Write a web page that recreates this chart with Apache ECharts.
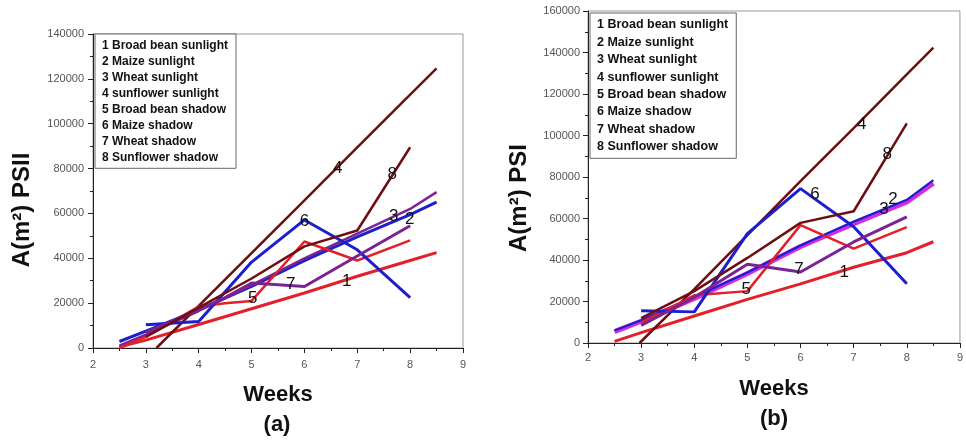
<!DOCTYPE html>
<html>
<head>
<meta charset="utf-8">
<script src="https://cdn.jsdelivr.net/npm/echarts@6/dist/echarts.min.js"></script>
<style>
  html, body { margin: 0; padding: 0; background: #fff; }
  #chart { width: 966px; height: 440px; }
</style>
</head>
<body>
<div id="chart"></div>
<script>
// Leaf area A(m²) over weeks, sunlight vs shadow, for PSII (a) and PSI (b)
const seriesNames = [
  '1 Broad bean sunlight', '2 Maize sunlight', '3 Wheat sunlight', '4 sunflower sunlight',
  '5 Broad bean shadow', '6 Maize shadow', '7 Wheat shadow', '8 Sunflower shadow'
];
const weekTicks = [2, 3, 4, 5, 6, 7, 8, 9];

// Panel (a): A(m²) PSII, [week, area]
const a1 = [[2.5, 500], [3, 3500], [4, 10500], [5, 17500], [6, 24500], [7, 32000], [8, 39000], [8.5, 42500]];
const a2 = [[2.5, 2900], [3, 7500], [4, 17000], [5, 27500], [6, 39000], [7, 49500], [8, 59500], [8.5, 65000]];
const a3 = [[2.5, 1000], [3, 6000], [4, 16500], [5, 28000], [6, 40000], [7, 51000], [8, 62000], [8.5, 69500]];
const a4 = [[3.2, 0], [4, 18800], [5, 42300], [6, 65800], [7, 89400], [8, 113000], [8.5, 124700]];
const a5 = [[2.5, 0], [3, 5000], [4, 18500], [4.5, 20000], [5, 21000], [6, 47500], [7, 39000], [8, 48000]];
const a6 = [[3, 10400], [4, 11800], [5, 38300], [6, 57100], [7, 43800], [8, 22500]];
const a7 = [[3, 7000], [4, 17000], [4.5, 22500], [5, 29000], [6, 27400], [7, 41000], [8, 54500]];
const a8 = [[3, 5000], [4, 18000], [5, 31000], [6, 45300], [7, 52400], [8, 89500]];

// Panel (b): A(m²) PSI, [week, area]
const b1 = [[2.5, 800], [3, 5000], [4, 13000], [5, 21000], [6, 28500], [7, 36500], [8, 43500], [8.5, 48800]];
const b2 = [[2.5, 6000], [3, 11000], [4, 22000], [5, 34000], [6, 47000], [7, 58500], [8, 69000], [8.5, 78500]];
const b3 = [[2.5, 5500], [3, 10500], [4, 21500], [5, 33500], [6, 46500], [7, 57500], [8, 68000], [8.5, 77000]];
const b4 = [[2.97, 0], [4, 26000], [5, 52000], [6, 78000], [7, 103500], [8, 129500], [8.5, 142300]];
const b5 = [[3, 10000], [3.7, 19000], [4, 23000], [5, 25000], [6, 56800], [7, 45500], [8, 55800]];
const b6 = [[3, 15500], [4, 15000], [5, 52700], [6, 74400], [7, 56000], [8, 28600]];
const b7 = [[3, 8500], [4, 22000], [5, 38000], [6, 34200], [7, 48700], [8, 60800]];
const b8 = [[3, 12000], [4, 25000], [5, 41000], [6, 57900], [7, 63500], [8, 105800]];

// Where each curve number is written, [week, area]
const tagsA = [[6.8, 29700], [7.99, 57400], [7.69, 58600], [6.63, 80200], [5.02, 22300], [6.0, 56400], [5.74, 28200], [7.66, 77600]];
const tagsB = [[6.82, 34300], [7.74, 69300], [7.57, 64300], [7.15, 105500], [4.98, 25800], [6.27, 71600], [5.97, 35400], [7.63, 91000]];

const dataA = [a1, a2, a3, a4, a5, a6, a7, a8];
const dataB = [b1, b2, b3, b4, b5, b6, b7, b8];

const RED = '#e3202a', BLUE = '#1c1fcc', PURPLE = '#7b2392', MAROON = '#6e0d12', MAGENTA = '#d22ee0';
const colorsA = [RED, BLUE, PURPLE, MAROON, RED, BLUE, PURPLE, MAROON];
const colorsB = [RED, BLUE, MAGENTA, MAROON, RED, BLUE, PURPLE, MAROON];
const widthsA = [3, 3, 2.5, 2.5, 2.5, 3, 3, 2.5];
const widthsB = [3, 2.2, 5, 2.5, 2.5, 3, 3, 2.5];

const FONT = 'Liberation Sans, Arial, sans-serif';

function xAxis(gridIndex, labelMargin) {
  return {
    type: 'value', gridIndex, min: 2, max: 9, interval: 1,
    axisLine: { show: true, lineStyle: { color: '#222', width: 1 } },
    axisTick: { show: true, inside: false, length: 5, lineStyle: { color: '#222' } },
    minorTick: { show: true, splitNumber: 2, length: 3, lineStyle: { color: '#222' } },
    splitLine: { show: false },
    axisLabel: { color: '#555', fontSize: 11, fontFamily: FONT, margin: labelMargin }
  };
}
function yAxis(gridIndex, max, labelMargin) {
  return {
    type: 'value', gridIndex, min: 0, max, interval: 20000,
    axisLine: { show: true, lineStyle: { color: '#222', width: 1 } },
    axisTick: { show: true, inside: false, length: 5, lineStyle: { color: '#222' } },
    minorTick: { show: true, splitNumber: 2, length: 3, lineStyle: { color: '#222' } },
    splitLine: { show: false },
    axisLabel: { color: '#555', fontSize: 11, fontFamily: FONT, margin: labelMargin, formatter: v => String(v) }
  };
}

function buildSeries(data, colors, tags, axisIndex, widths) {
  return data.map((d, i) => ({
    name: seriesNames[i],
    type: 'line',
    xAxisIndex: axisIndex, yAxisIndex: axisIndex,
    data: d,
    showSymbol: false,
    symbol: 'none',
    z: widths[i] > 4 ? 1 : 2,
    lineStyle: { color: colors[i], width: widths[i] },
    itemStyle: { color: colors[i] },
    markPoint: {
      symbol: 'circle', symbolSize: 1,
      itemStyle: { color: 'rgba(0,0,0,0)' },
      label: { show: true, position: 'inside', color: '#111', fontSize: 17, fontFamily: FONT, formatter: String(i + 1) },
      data: [{ coord: tags[i] }]
    }
  }));
}

function legend(left, top, gap, size) {
  return {
    data: seriesNames, orient: 'vertical', left, top,
    icon: 'none', itemWidth: 0, itemHeight: 14, itemGap: gap,
    padding: [5, 8, 5, 2],
    borderColor: '#666', borderWidth: 1, backgroundColor: '#fff',
    selectedMode: false,
    textStyle: { color: '#111', fontSize: size, fontWeight: 'bold', fontFamily: FONT }
  };
}

const chart = echarts.init(document.getElementById('chart'), null, { renderer: 'canvas' });
chart.setOption({
  animation: false,
  backgroundColor: '#fff',
  grid: [
    { left: 93, top: 34, right: 503, bottom: 92, show: true, borderColor: '#999', borderWidth: 1 },
    { left: 588, top: 11, right: 6, bottom: 97, show: true, borderColor: '#999', borderWidth: 1 }
  ],
  xAxis: [xAxis(0, 11), xAxis(1, 9)],
  yAxis: [yAxis(0, 140000, 9), yAxis(1, 160000, 8)],
  legend: [legend(95, 34, 2.9, 12), legend(590, 13, 3.9, 12.5)],
  series: [
    ...buildSeries(dataA, colorsA, tagsA, 0, widthsA),
    ...buildSeries(dataB, colorsB, tagsB, 1, widthsB)
  ],
  graphic: [
    { type: 'text', x: 22, y: 210, rotation: Math.PI / 2, style: { text: 'A(m²) PSII', font: 'bold 24px ' + FONT, fill: '#111', align: 'center', verticalAlign: 'middle' } },
    { type: 'text', x: 519, y: 198, rotation: Math.PI / 2, style: { text: 'A(m²) PSI', font: 'bold 24px ' + FONT, fill: '#111', align: 'center', verticalAlign: 'middle' } },
    { type: 'text', x: 278, y: 395, style: { text: 'Weeks', font: 'bold 22px ' + FONT, fill: '#111', align: 'center', verticalAlign: 'middle' } },
    { type: 'text', x: 277, y: 425, style: { text: '(a)', font: 'bold 22px ' + FONT, fill: '#111', align: 'center', verticalAlign: 'middle' } },
    { type: 'text', x: 774, y: 389, style: { text: 'Weeks', font: 'bold 22px ' + FONT, fill: '#111', align: 'center', verticalAlign: 'middle' } },
    { type: 'text', x: 774, y: 419, style: { text: '(b)', font: 'bold 22px ' + FONT, fill: '#111', align: 'center', verticalAlign: 'middle' } }
  ]
});
</script>
</body>
</html>
